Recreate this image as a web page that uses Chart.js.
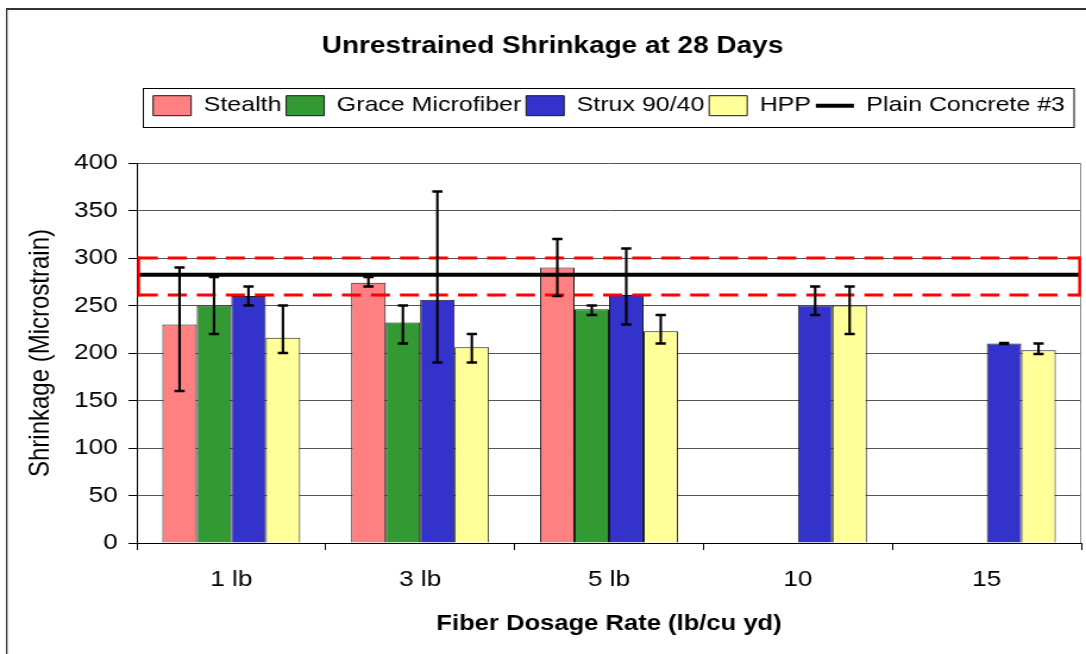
<!DOCTYPE html>
<html><head><meta charset="utf-8">
<script src="https://cdn.jsdelivr.net/npm/chart.js@4/dist/chart.umd.min.js"></script>
<style>html,body{margin:0;padding:0;background:#fff;overflow:hidden}
#wrap{width:913px;height:654px;transform:scaleX(1.1895);transform-origin:0 0}
#c{display:block}</style></head>
<body><div id="wrap"><canvas id="c" width="913" height="654"></canvas></div>
<script>
// ---- data ----
const categories = ['1 lb', '3 lb', '5 lb', '10', '15'];
const seriesNames = ['Stealth', 'Grace Microfiber', 'Strux 90/40', 'HPP'];
const stealth      = [230, 274, 290, null, null];
const stealthHigh  = [290, 280, 320, null, null];
const stealthLow   = [160, 270, 260, null, null];
const grace        = [250, 232, 246, null, null];
const graceHigh    = [280, 250, 250, null, null];
const graceLow     = [220, 210, 240, null, null];
const strux        = [260, 256, 261, 250, 210];
const struxHigh    = [270, 370, 310, 270, 210.6];
const struxLow     = [250, 190, 230, 240, 209.4];
const hpp          = [216, 206, 223, 250, 203];
const hppHigh      = [250, 220, 240, 270, 210];
const hppLow       = [200, 190, 210, 220, 199];
const plainConcreteName = 'Plain Concrete #3';
const plainConcrete = 282.5;
const bandHigh = 300;
const bandLow = 261;
const yTickMin = 0, yTickMax = 400, yTickStep = 50;

const FONT = "'Liberation Sans', Arial, sans-serif";
const colors = ['#FF8080', '#339933', '#3333CC', '#FFFF99'];
const values = [stealth, grace, strux, hpp];
const errHigh = [stealthHigh, graceHigh, struxHigh, hppHigh];
const errLow = [stealthLow, graceLow, struxLow, hppLow];

const barSets = seriesNames.map((n, i) => ({
  type: 'bar', label: n, data: values[i], backgroundColor: colors[i],
  borderColor: '#1a1a1a', borderWidth: 1,
  categoryPercentage: 0.73, barPercentage: 1.0
}));

// reference line (Plain Concrete #3) and the dashed band around it, placed with the y scale
const referenceLines = {
  id: 'referenceLines',
  afterDatasetsDraw(chart) {
    const ctx = chart.ctx, ys = chart.scales.y, xs = chart.scales.x;
    const xl = xs.left, xr = xs.right;
    const yc = ys.getPixelForValue(plainConcrete);
    ctx.save();
    ctx.strokeStyle = '#000'; ctx.lineWidth = 4;
    ctx.beginPath(); ctx.moveTo(xl, yc); ctx.lineTo(xr - 1, yc); ctx.stroke();
    const b0 = xl + 1.6, b1 = xr - 1.4;
    const yh = ys.getPixelForValue(bandHigh), yl = ys.getPixelForValue(bandLow);
    ctx.strokeStyle = '#FF0000'; ctx.lineWidth = 3;
    ctx.setLineDash([16, 8.4]);
    ctx.beginPath(); ctx.moveTo(b0, yh); ctx.lineTo(b1, yh); ctx.stroke();
    ctx.beginPath(); ctx.moveTo(b0, yl); ctx.lineTo(b1, yl); ctx.stroke();
    ctx.setLineDash([]);
    ctx.lineWidth = 2.4;
    ctx.beginPath(); ctx.moveTo(b0, yh - 1.5); ctx.lineTo(b0, yl + 1.5); ctx.stroke();
    ctx.beginPath(); ctx.moveTo(b1, yh - 1.5); ctx.lineTo(b1, yl + 1.5); ctx.stroke();
    ctx.restore();
  }
};

const errorBars = {
  id: 'errorBars',
  afterDatasetsDraw(chart) {
    const ctx = chart.ctx, ys = chart.scales.y;
    ctx.save();
    ctx.strokeStyle = '#000';
    errHigh.forEach((hi, di) => {
      const meta = chart.getDatasetMeta(di);
      meta.data.forEach((bar, i) => {
        if (hi[i] == null || values[di][i] == null) return;
        const x = bar.x;
        const yh = ys.getPixelForValue(hi[i]);
        const yl = ys.getPixelForValue(errLow[di][i]);
        ctx.lineWidth = 2.1;
        ctx.beginPath(); ctx.moveTo(x, yh); ctx.lineTo(x, yl); ctx.stroke();
        ctx.lineWidth = 2.6;
        ctx.beginPath();
        ctx.moveTo(x - 4.3, yh); ctx.lineTo(x + 4.3, yh);
        ctx.moveTo(x - 4.3, yl); ctx.lineTo(x + 4.3, yl);
        ctx.stroke();
      });
    });
    ctx.restore();
  }
};

const decorations = {
  id: 'decor',
  beforeDatasetsDraw(chart) {
    const ctx = chart.ctx, a = chart.chartArea;
    ctx.save();
    ctx.strokeStyle = '#888'; ctx.lineWidth = 1;
    ctx.beginPath(); ctx.moveTo(a.right - 0.5, a.top); ctx.lineTo(a.right - 0.5, a.bottom); ctx.stroke();
    ctx.restore();
  },
  afterDraw(chart) {
    const ctx = chart.ctx;
    ctx.save();
    ctx.strokeStyle = '#333';
    ctx.lineWidth = 2;
    ctx.beginPath(); ctx.moveTo(5, 9); ctx.lineTo(930, 9); ctx.stroke();
    ctx.lineWidth = 1.3;
    ctx.beginPath(); ctx.moveTo(5.6, 8); ctx.lineTo(5.6, 660); ctx.stroke();
    ctx.strokeStyle = '#000'; ctx.lineWidth = 1;
    ctx.strokeRect(120.5, 88.5, 782.5, 39);
    ctx.restore();
  }
};

new Chart(document.getElementById('c'), {
  type: 'bar',
  data: { labels: categories, datasets: barSets },
  options: {
    responsive: false, devicePixelRatio: 1, animation: false,
    layout: { padding: { left: 20, right: 4, top: 0, bottom: 0 } },
    plugins: {
      tooltip: { enabled: false },
      title: { display: true, text: 'Unrestrained Shrinkage at 28 Days', color: '#000',
        font: { family: FONT, size: 23.5, weight: 'bold' }, padding: { top: 32, bottom: 31 } },
      legend: {
        display: true, position: 'top', fullSize: false,
        labels: {
          color: '#000', font: { family: FONT, size: 21 }, boxWidth: 32, boxHeight: 20,
          usePointStyle: true, pointStyleWidth: 32, padding: 4,
          generateLabels(chart) {
            const items = Chart.defaults.plugins.legend.labels.generateLabels(chart).map(it => {
              it.pointStyle = 'rect'; it.fillStyle = colors[it.datasetIndex];
              it.strokeStyle = '#1a1a1a'; it.lineWidth = 1; it.lineDash = []; it.rotation = 0;
              return it;
            });
            items.push({ text: plainConcreteName, pointStyle: 'line', fillStyle: '#000', strokeStyle: '#000',
              lineWidth: 4, lineDash: [], rotation: 0, hidden: false, fontColor: '#000', datasetIndex: 99 });
            return items;
          }
        },
        onClick: () => {}
      }
    },
    scales: {
      x: {
        type: 'category', position: 'bottom', offset: true,
        grid: { display: true, offset: true, drawOnChartArea: false, drawTicks: true, tickLength: 7, tickColor: '#000', color: '#000' },
        border: { display: true, color: '#000', width: 1 },
        ticks: { color: '#000', font: { family: FONT, size: 22 }, padding: 17, maxRotation: 0 },
        title: { display: true, text: 'Fiber Dosage Rate (lb/cu yd)', color: '#000',
          font: { family: FONT, size: 21.5, weight: 'bold' }, padding: { top: 0, bottom: 17 } },
        afterFit(s) { s.height = 111; }
      },
      x2: {
        type: 'linear', position: 'top', min: 0, max: 1, display: true,
        ticks: { display: false }, grid: { display: false }, border: { display: false },
        afterFit(s) { s.height = 36.8; }
      },
      y: {
        type: 'linear', position: 'left', min: yTickMin, max: yTickMax,
        ticks: { stepSize: yTickStep, color: '#000', font: { family: FONT, size: 22 }, padding: 9 },
        grid: { color: '#555', lineWidth: 1, drawTicks: true, tickLength: 7, tickColor: '#000' },
        border: { display: true, color: '#000', width: 1 },
        title: { display: true, text: 'Shrinkage (Microstrain)', color: '#000',
          font: { family: FONT, size: 24 }, padding: { top: 0, bottom: 0 } },
        afterFit(s) { s.width = 95; }
      }
    }
  },
  plugins: [referenceLines, errorBars, decorations]
});
</script>
</body></html>
